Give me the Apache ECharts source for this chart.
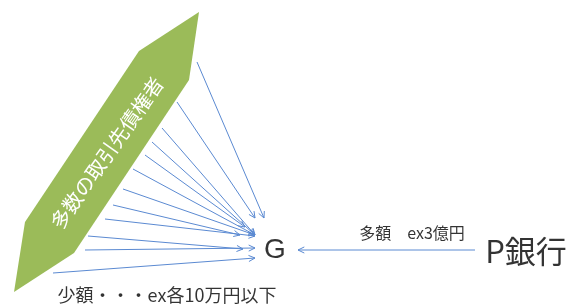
<!DOCTYPE html>
<html>
<head>
<meta charset="utf-8">
<script src="https://cdn.jsdelivr.net/npm/echarts@6/dist/echarts.min.js"></script>
<style>
  html, body { margin: 0; padding: 0; background: #ffffff; }
  #chart { width: 575px; height: 304px; }
</style>
</head>
<body>
<div id="chart"></div>
<script>
// Diagram laid out on a hidden 575 x 304 value grid
const ribbonPoints = [[199, 12], [189, 80], [74, 253], [14, 292], [25, 222], [139, 51]];
const ribbonLabel = '多数の取引先債権者';

// small creditor arrows: [fromX, fromY, toX, toY]
const creditorArrows = [
  [197, 62, 264, 218],
  [177, 102, 255, 218],
  [162, 128, 255, 235],
  [152, 142, 255, 235],
  [145, 155, 245, 227],
  [133, 169, 255, 235],
  [123, 189, 255, 235],
  [113, 205, 240, 235],
  [105, 219, 255, 236],
  [88, 236, 243, 249],
  [85, 250, 255, 248],
  [53, 273, 255, 258]
];
const bankArrow = [[475, 250, 298, 250]];

const texts = [
  { name: 'G', pos: [275, 250], size: 28 },
  { name: 'P銀行', pos: [526, 251], size: 31 },
  { name: '多額\u3000ex3億円', pos: [412, 233], size: 16 },
  { name: '少額・・・ex各10万円以下', pos: [167, 295], size: 18 }
];

const chart = echarts.init(document.getElementById('chart'));

function arrowItem(params, api) {
  const p1 = api.coord([api.value(0), api.value(1)]);
  const p2 = api.coord([api.value(2), api.value(3)]);
  const ang = Math.atan2(p2[1] - p1[1], p2[0] - p1[0]);
  const len = 7, spread = 0.45;
  const a = [p2[0] - len * Math.cos(ang - spread), p2[1] - len * Math.sin(ang - spread)];
  const b = [p2[0] - len * Math.cos(ang + spread), p2[1] - len * Math.sin(ang + spread)];
  const style = { stroke: '#5b8ad2', lineWidth: 1, fill: null };
  return {
    type: 'group',
    children: [
      { type: 'line', shape: { x1: p1[0], y1: p1[1], x2: p2[0], y2: p2[1] }, style: style },
      { type: 'polyline', shape: { points: [a, p2, b] }, style: style }
    ]
  };
}

const option = {
  animation: false,
  backgroundColor: '#ffffff',
  grid: { left: 0, right: 0, top: 0, bottom: 0 },
  xAxis: { type: 'value', min: 0, max: 575, show: false },
  yAxis: { type: 'value', min: 0, max: 304, inverse: true, show: false },
  series: [
    {
      type: 'custom',
      renderItem: function (params, api) {
        const pts = ribbonPoints.map(p => api.coord(p));
        return { type: 'polygon', shape: { points: pts }, style: { fill: '#9bbb59' } };
      },
      data: [[0, 0]],
      silent: true
    },
    {
      type: 'custom',
      renderItem: function (params, api) {
        const c = api.coord([107, 153]);
        return {
          type: 'text',
          x: c[0],
          y: c[1],
          rotation: 55 * Math.PI / 180,
          style: {
            text: ribbonLabel,
            fill: '#ffffff',
            font: '20px "Noto Sans CJK JP"',
            align: 'center',
            verticalAlign: 'middle'
          }
        };
      },
      data: [[0, 0]],
      silent: true
    },
    {
      type: 'custom',
      renderItem: arrowItem,
      data: creditorArrows,
      silent: true
    },
    {
      type: 'custom',
      renderItem: arrowItem,
      data: bankArrow,
      silent: true
    },
    {
      type: 'scatter',
      symbolSize: 0,
      silent: true,
      data: texts.map(t => ({
        value: t.pos,
        label: {
          show: true,
          position: 'inside',
          formatter: t.name,
          color: '#000000',
          fontSize: t.size,
          fontFamily: t.name === 'G' ? '"Liberation Sans", sans-serif' : '"Noto Sans CJK JP", sans-serif'
        }
      }))
    }
  ]
};

chart.setOption(option);
</script>
</body>
</html>
